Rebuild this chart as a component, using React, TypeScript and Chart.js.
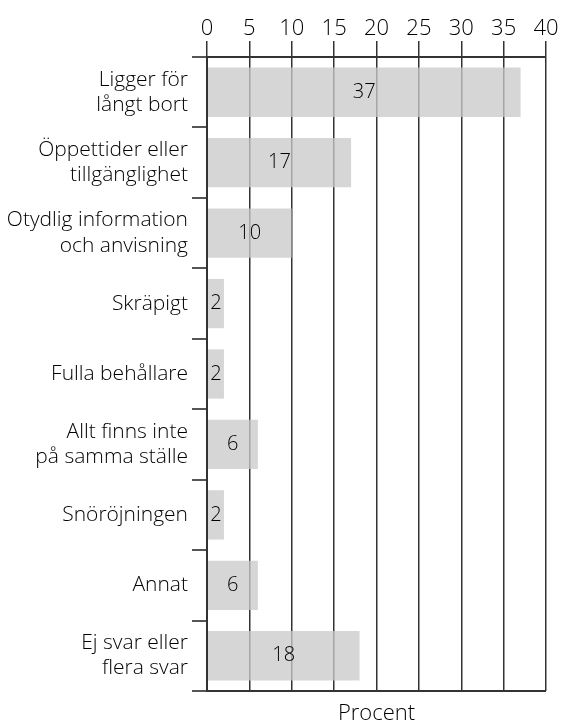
import React, { useEffect, useRef } from "react";
import { Chart, registerables } from "chart.js";

Chart.register(...registerables);

const categories: (string | string[])[] = [
  ["Ligger för", "långt bort"],
  ["Öppettider eller", "tillgänglighet"],
  ["Otydlig information", "och anvisning"],
  "Skräpigt",
  "Fulla behållare",
  ["Allt finns inte", "på samma ställe"],
  "Snöröjningen",
  "Annat",
  ["Ej svar eller", "flera svar"],
];
const values: number[] = [37, 17, 10, 2, 2, 6, 2, 6, 18];
const xTicks: number[] = [0, 5, 10, 15, 20, 25, 30, 35, 40];
const axisTitle = "Procent";

const FONT = "'Open Sans', sans-serif";
const WEIGHT = 300;
const TEXT = "#000000";
const LINE = "#333333";

const valueLabels = {
  id: "valueLabels",
  afterDatasetsDraw(chart: any) {
    const ctx = chart.ctx;
    const meta = chart.getDatasetMeta(0);
    ctx.save();
    ctx.font = `${WEIGHT} 20px ${FONT}`;
    ctx.fillStyle = TEXT;
    ctx.textAlign = "center";
    ctx.textBaseline = "middle";
    meta.data.forEach((el: any, i: number) => {
      const cx = (el.x + el.base) / 2;
      ctx.fillText(String(values[i]), cx, el.y);
    });
    ctx.restore();
  },
};

export default function App() {
  const ref = useRef<HTMLCanvasElement | null>(null);
  useEffect(() => {
    if (!ref.current) return;
    const chart = new Chart(ref.current, {
      type: "bar",
      data: {
        labels: categories,
        datasets: [
          {
            data: values,
            backgroundColor: "rgba(201,201,201,0.76)",
            borderWidth: 0,
            barPercentage: 0.7,
            categoryPercentage: 1,
            xAxisID: "x",
          },
        ],
      },
      options: {
        indexAxis: "y",
        responsive: false,
        animation: false,
        layout: { padding: { left: 0, right: 17, top: 0, bottom: 0 } },
        plugins: {
          legend: { display: false },
          tooltip: { enabled: false },
          title: { display: false },
        },
        scales: {
          x: {
            type: "linear",
            position: "top",
            min: 0,
            max: 40,
            afterBuildTicks: (scale: any) => {
              scale.ticks = xTicks.map((v) => ({ value: v }));
            },
            afterFit: (scale: any) => {
              scale.height = 57;
            },
            ticks: {
              font: { family: FONT, size: 22, weight: WEIGHT },
              color: TEXT,
              padding: -1,
              maxRotation: 0,
            },
            grid: {
              color: LINE,
              tickColor: LINE,
              tickLength: 16,
              lineWidth: 1.5,
            },
            border: { display: true, color: LINE, width: 2 },
          },
          x2: {
            type: "linear",
            position: "bottom",
            min: 0,
            max: 40,
            afterFit: (scale: any) => {
              scale.height = 33;
            },
            ticks: { display: false },
            grid: { display: false },
            border: { display: false },
            title: {
              display: true,
              text: axisTitle,
              font: { family: FONT, size: 22, weight: WEIGHT },
              color: TEXT,
              padding: { top: 0, bottom: -3 },
            },
          },
          y: {
            type: "category",
            afterFit: (scale: any) => {
              scale.width = 207;
            },
            ticks: {
              font: { family: FONT, size: 21, lineHeight: 1.2, weight: WEIGHT },
              color: TEXT,
              padding: 4,
            },
            grid: {
              offset: true,
              color: (ctx: any) =>
                ctx.type !== "tick" || ctx.index === 0 ? LINE : "rgba(0,0,0,0)",
              tickColor: "#555555",
              tickLength: 15,
              lineWidth: 2,
            },
            border: { display: true, color: LINE, width: 2, z: 1 },
          },
        },
      },
      plugins: [valueLabels],
    });
    return () => chart.destroy();
  }, []);
  return (
    <div style={{ position: "absolute", left: 0, top: 0, width: 563, height: 724, background: "#fff" }}>
      <canvas ref={ref} width={563} height={724} style={{ display: "block" }} />
    </div>
  );
}
